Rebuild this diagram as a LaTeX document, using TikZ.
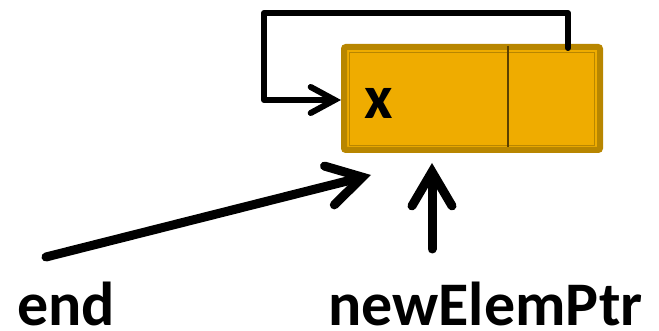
\documentclass[tikz,border=0pt]{standalone}
\usepackage{fontspec}
\setmainfont{Carlito}
\usetikzlibrary{arrows.meta}
\definecolor{boxfill}{RGB}{239,172,0}
\definecolor{boxborder}{RGB}{184,134,0}
\definecolor{divider}{RGB}{90,64,0}
\tikzset{
  listbox/.style={draw=boxborder,fill=boxfill,line width=6pt,rounded corners=2pt,
    minimum width=256pt,minimum height=103pt,inner sep=0pt},
  bigptr/.style={line width=9pt,line cap=round,
    -{Straight Barb[length=34pt,width=40pt,line cap=round,line join=miter]}},
  loopptr/.style={line width=6pt,line cap=round,line join=round,
    -{Straight Barb[length=24pt,width=26pt,line cap=round,line join=miter]}},
  lbl/.style={font=\fontsize{62}{62}\selectfont\bfseries,inner sep=0pt,anchor=base west}
}
\begin{document}
\begin{tikzpicture}[x=1pt,y=-1pt]
\useasboundingbox (0,0) rectangle (659,331);
\node[listbox] (box) at (472,98.5) {};
\draw[boxborder,line width=1pt] (349.5,53) rectangle (594.5,145.5);
\draw[divider,line width=1.2pt] (508,46) -- (508,147);
\node[lbl] (xval) at (364,119) {x};
\coordinate (ptr) at (568,48);
\coordinate (c1) at (568,13);
\coordinate (c2) at (264,13);
\coordinate (c3) at (264,100);
\draw[loopptr] (ptr) -- (c1) -- (c2) -- (c3) -- (box.west |- c3);
\node[lbl] (endlbl) at (17,326) {end};
\node[lbl] (newlbl) at (328,326) {newElemPtr};
\coordinate (endstart) at (46,257);
\coordinate (endtip) at (371,175);
\draw[bigptr] (endstart) -- (endtip);
\coordinate (newstart) at (432,249);
\coordinate (newtip) at (432,163);
\draw[bigptr] (newstart) -- (newtip);
\end{tikzpicture}
\end{document}
